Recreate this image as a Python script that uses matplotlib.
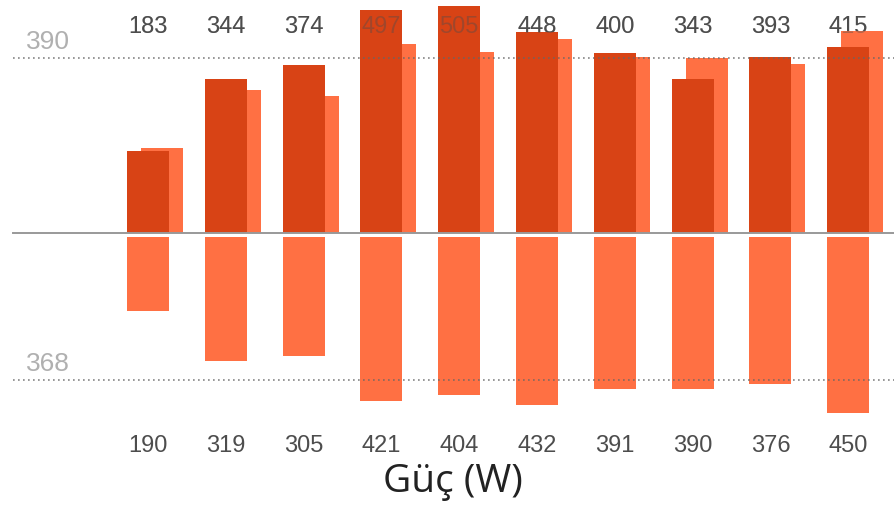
import numpy as np
import matplotlib
matplotlib.use("Agg")
import matplotlib.pyplot as plt
from matplotlib.transforms import blended_transform_factory

# values
top_values = [183, 344, 374, 497, 505, 448, 400, 343, 393, 415]
bottom_values = [190, 319, 305, 421, 404, 432, 391, 390, 376, 450]
x_label = "Güç (W)"

dark = "#D84315"
light = "#FF7043"

top_mean = np.mean(top_values)
bottom_mean = np.mean(bottom_values)

x = np.arange(len(top_values))
W, H = 894, 521
fig = plt.figure(figsize=(W / 100, H / 100), dpi=100)

# top panel: dark bars with the light series peeking out behind
ax_top = fig.add_axes([0, (H - 233) / H, 1, 233 / H])
ax_bot = fig.add_axes([0, 0, 1, (H - 237) / H])

xlim = (-148 / 77.8, (W - 148) / 77.8)
bw = 42 / 77.8
off = 14 / 77.8

ax_top.bar(x + off, bottom_values, width=bw, color=light, zorder=1)
ax_top.bar(x, top_values, width=bw, color=dark, zorder=2)
ax_top.set_xlim(*xlim)
ax_top.set_ylim(0, 233 / 0.449)

ax_bot.bar(x, bottom_values, width=bw, color=light, zorder=1)
ax_bot.set_xlim(*xlim)
ax_bot.set_ylim((H - 237) / 0.39, 0)

for ax in (ax_top, ax_bot):
    ax.axis("off")

# baseline
ax_top.axhline(0, xmin=13 / W, xmax=1, color="#999999", lw=1.4, zorder=3, clip_on=False)

# mean lines
ax_top.axhline(top_mean, xmin=13 / W, xmax=1, color="#666666", lw=1.2,
               ls=(0, (1, 2)), alpha=0.8, zorder=4)
ax_bot.axhline(bottom_mean, xmin=13 / W, xmax=1, color="#666666", lw=1.2,
               ls=(0, (1, 2)), alpha=0.8, zorder=4)

tr_top = blended_transform_factory(ax_top.transAxes, ax_top.transData)
tr_bot = blended_transform_factory(ax_bot.transAxes, ax_bot.transData)
ax_top.annotate(f"{top_mean:.0f}", xy=(48 / W, top_mean), xycoords=tr_top,
                xytext=(0, 3), textcoords="offset points", ha="center", va="bottom",
                fontsize=19, color="#b0b0b0", family="Liberation Sans")
ax_bot.annotate(f"{bottom_mean:.0f}", xy=(48 / W, bottom_mean), xycoords=tr_bot,
                xytext=(0, 3), textcoords="offset points", ha="center", va="bottom",
                fontsize=19, color="#b0b0b0", family="Liberation Sans")

# value labels (top ones sit behind the bars, showing faintly through)
lab_top = blended_transform_factory(ax_top.transData, ax_top.transAxes)
lab_bot = blended_transform_factory(ax_bot.transData, ax_bot.transAxes)
for i, v in enumerate(top_values):
    ax_top.text(i, (233 - 27) / 233, str(v), transform=lab_top, ha="center", va="center",
                fontsize=17, color="#4d4d4d", family="Liberation Sans", zorder=0)
    ax_top.text(i, (233 - 27) / 233, str(v), transform=lab_top, ha="center", va="center",
                fontsize=17, color="#4d4d4d", family="Liberation Sans", zorder=5, alpha=0.4)
for i, v in enumerate(bottom_values):
    ax_bot.text(i, 1 - (446 - 237) / (H - 237), str(v), transform=lab_bot, ha="center",
                va="center", fontsize=17, color="#4d4d4d", family="Liberation Sans")

fig.text(453 / W, 1 - 482 / H, x_label, ha="center", va="center", fontsize=28,
         color="#222222", family="Open Sans")

fig.savefig("out.png", dpi=100)
